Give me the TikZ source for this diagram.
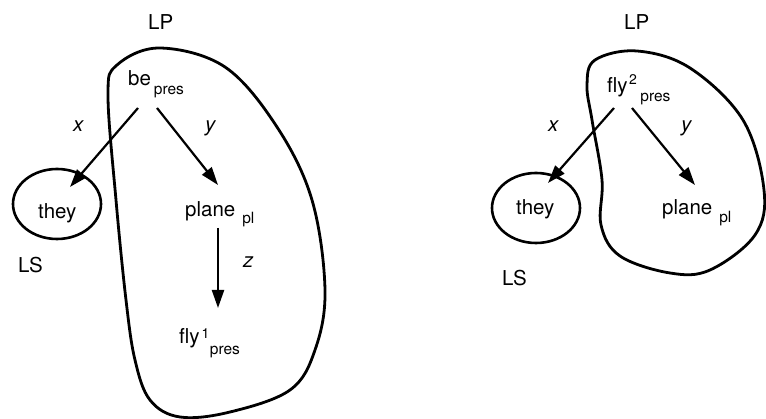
\documentclass[tikz,border=0pt]{standalone}
\usepackage{fontspec}
\setmainfont{TeX Gyre Heros}
\usetikzlibrary{arrows.meta,shapes.geometric}
\newcommand\subtx[2]{\kern#1pt\raisebox{-#2pt}{\fontsize{15.5}{16}\selectfont pres}}
\newcommand\subpl[2]{\kern#1pt\raisebox{-#2pt}{\fontsize{15.5}{16}\selectfont pl}}
\newcommand\suptx[3]{\kern#2pt\raisebox{#3pt}{\fontsize{14}{15}\selectfont #1}}
\begin{document}
\begin{tikzpicture}[x=1pt,y=-1pt,
  lbl/.style={anchor=base west,inner sep=0pt,font=\fontsize{20.5}{24}\selectfont},
  var/.style={anchor=base west,inner sep=0pt,font=\fontsize{20.5}{24}\selectfont\itshape},
  arr/.style={line width=2.2pt,-{Triangle[length=18pt,width=12pt]}},
  blob/.style={line width=2.8pt,line join=round},
  ring/.style={draw,ellipse,line width=2.6pt,inner sep=0pt,minimum width=88pt,minimum height=70pt}]
\useasboundingbox (0,0) rectangle (766,419);

% ---------- left panel ----------
\draw[blob] plot[smooth cycle,tension=0.6] coordinates {
  (108,95) (117,65) (160,48) (225,67) (277,127) (312,200) (325,290)
  (315,350) (290,390) (230,412) (180,417) (150,400) (135,360) (126,300) (116,200)};
\node[lbl] (LPa) at (148,30) {LP};
\node[lbl] (LSa) at (18,273) {LS};
\node[ring] (theyRa) at (57,204) {};
\node[lbl] (theya) at (38,219) {they};
\node[lbl] (bea) at (128,86) {be\subtx{3}{9}};
\node[lbl] (planea) at (185,217) {plane\subpl{7}{7}};
\node[lbl] (flya) at (179,344) {fly\suptx{1}{2}{5}\subtx{0.5}{11}};
\node[var] (xa) at (73,132) {x};
\node[var] (ya) at (205,132) {y};
\node[var] (za) at (243,268) {z};
\coordinate (bexs) at (138,108);
\coordinate (bexe) at (70,187);
\coordinate (beys) at (157,108);
\coordinate (beye) at (218,185);
\coordinate (plzs) at (218,228);
\coordinate (plze) at (218,308);
\draw[arr] (bexs) -- (bexe);
\draw[arr] (beys) -- (beye);
\draw[arr] (plzs) -- (plze);

% ---------- right panel ----------
\draw[blob] plot[smooth cycle,tension=0.6] coordinates {
  (587,85) (595,60) (637,51) (690,68) (743,120) (764,190) (755,235)
  (710,270) (670,273) (620,256) (601,225) (602,180) (592,120)};
\node[lbl] (LPb) at (624,30) {LP};
\node[lbl] (LSb) at (502,286) {LS};
\node[ring] (theyRb) at (536,208) {};
\node[lbl] (theyb) at (516,215) {they};
\node[lbl] (flyb) at (607,93) {fly\suptx{2}{1.5}{8}\subtx{3.5}{9}};
\node[lbl] (planeb) at (662,215) {plane\subpl{7}{8}};
\node[var] (xb) at (548,132) {x};
\node[var] (yb) at (681,132) {y};
\coordinate (flxs) at (614,108);
\coordinate (flxe) at (548,183);
\coordinate (flys) at (632,108);
\coordinate (flye) at (695,185);
\draw[arr] (flxs) -- (flxe);
\draw[arr] (flys) -- (flye);
\end{tikzpicture}
\end{document}
